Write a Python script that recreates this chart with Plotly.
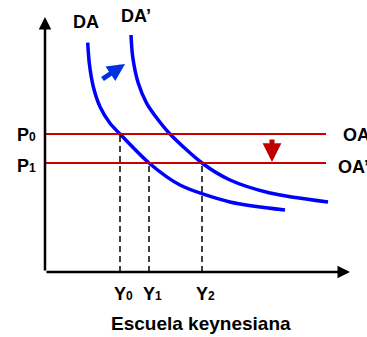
import plotly.graph_objects as go

# Price levels (P0 before, P1 after the supply shift)
price_levels = {"P0": 138, "P1": 109}
# Output levels
output_levels = {"Y0": 75, "Y1": 104, "Y2": 157}

# Aggregate demand curve DA
da_x = [42.7, 44.3, 48.3, 55, 65, 75, 104, 135, 185, 240]
da_y = [229.3, 208.7, 185.3, 165.3, 148.7, 138, 109, 87, 70, 62]
# Shifted aggregate demand DA'
da2_x = [86, 87.7, 93.3, 101.7, 113.3, 125, 157, 185, 225, 283]
da2_y = [237, 215.3, 188.7, 168.7, 152, 138, 109, 92, 79, 70]

# Horizontal aggregate supply lines OA, OA' end here
oa_end = 281

BLUE = "#0000FF"
RED = "#C80000"
FONT = "Arial, Liberation Sans, sans-serif"

fig = go.Figure()

for xs, ys in [(da_x, da_y), (da2_x, da2_y)]:
    fig.add_trace(go.Scatter(x=xs, y=ys, mode="lines",
                             line=dict(color=BLUE, width=3.5, shape="spline", smoothing=0.8),
                             hoverinfo="skip"))

for p in price_levels.values():
    fig.add_trace(go.Scatter(x=[0, oa_end], y=[p, p], mode="lines",
                             line=dict(color=RED, width=2), hoverinfo="skip"))

# Dashed guides from the intersections down to the output axis
guides = [("Y0", "P0"), ("Y1", "P1"), ("Y2", "P1")]
for yk, pk in guides:
    xv = output_levels[yk]
    fig.add_trace(go.Scatter(x=[xv, xv], y=[0, price_levels[pk]], mode="lines",
                             line=dict(color="black", width=1.5, dash="6px,4px"),
                             hoverinfo="skip"))

ann = []
# Axes with arrow tips
ann.append(dict(x=0, y=255, ax=0, ay=0, xref="x", yref="y", axref="x", ayref="y",
                text="", showarrow=True, arrowhead=2, arrowsize=1, arrowwidth=2.5,
                arrowcolor="black"))
ann.append(dict(x=305, y=0, ax=0, ay=0, xref="x", yref="y", axref="x", ayref="y",
                text="", showarrow=True, arrowhead=2, arrowsize=1, arrowwidth=2.5,
                arrowcolor="black"))
# Demand shift arrow
ann.append(dict(x=80, y=208, ax=56, ay=192, xref="x", yref="y", axref="x", ayref="y",
                text="", showarrow=True, arrowhead=2, arrowsize=0.7, arrowwidth=5,
                arrowcolor="#0030E0"))
# Supply shift arrow
ann.append(dict(x=227, y=110, ax=227, ay=134, xref="x", yref="y", axref="x", ayref="y",
                text="", showarrow=True, arrowhead=2, arrowsize=0.75, arrowwidth=5,
                arrowcolor="#C00000"))


def sub(base, digit):
    # bold letter followed by a smaller digit sitting on the baseline
    return f"<b>{base}<span style='font-size:12px'>{digit}</span></b>"


lab = dict(xref="x", yref="y", showarrow=False,
           font=dict(family=FONT, size=18, color="black"))
ann.append(dict(lab, x=41, y=250, text="<b>DA</b>"))
ann.append(dict(lab, x=91, y=256, text="<b>DA’</b>"))
ann.append(dict(lab, x=-19, y=price_levels["P0"] - 1, text=sub("P", 0)))
ann.append(dict(lab, x=-19, y=price_levels["P1"] - 3, text=sub("P", 1)))
ann.append(dict(lab, x=296, y=price_levels["P0"] - 1, xanchor="left", text="<b>OA</b>"))
ann.append(dict(lab, x=291, y=price_levels["P1"] - 4, xanchor="left", text="<b>OA’</b>"))
for name, xv in output_levels.items():
    ann.append(dict(lab, x=xv + 3, y=-22, text=sub("Y", name[1])))
ann.append(dict(lab, x=156, y=-51.5, text="<b>Escuela keynesiana</b>",
                font=dict(family=FONT, size=19, color="black")))

# Axis ranges span the whole figure so every label stays in view
fig.update_layout(
    width=367, height=337,
    margin=dict(l=0, r=0, t=0, b=0),
    paper_bgcolor="white", plot_bgcolor="white",
    showlegend=False,
    xaxis=dict(range=[-45, 322], visible=False, fixedrange=True),
    yaxis=dict(range=[-65, 272], visible=False, fixedrange=True),
    annotations=ann,
)

fig.write_html("out.html")
